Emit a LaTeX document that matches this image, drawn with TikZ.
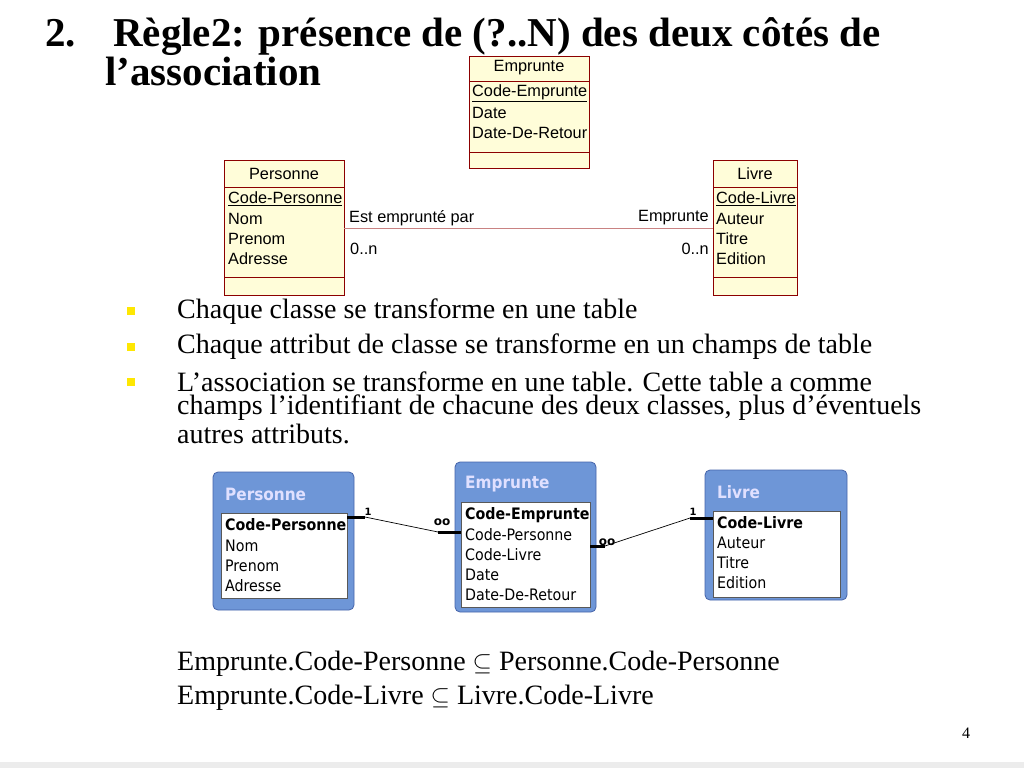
\documentclass[tikz,border=0pt]{standalone}
\usepackage{fontspec}
\setmainfont{Liberation Serif}
\newfontfamily\umlf{Liberation Sans}
\newfontfamily\accf{DejaVu Sans}
\newfontfamily\accc{DejaVu Sans Condensed}
\definecolor{accblue}{RGB}{110,150,215}
\definecolor{accedge}{RGB}{70,100,170}
\begin{document}
\begin{tikzpicture}[x=1pt,y=-1pt,
 umlbox/.style={draw=red!55!black,fill=yellow!15,line width=0.6pt},
 umlt/.style={anchor=west,inner sep=0pt,font=\umlf\fontsize{16.3}{16}\selectfont},
 acco/.style={draw=accedge,fill=accblue,rounded corners=5pt,line width=0.8pt},
 acci/.style={draw=gray!70!black,fill=white,line width=0.8pt},
 acct/.style={anchor=west,inner sep=0pt,font=\accc\fontsize{15.8}{16}\selectfont},
 acch/.style={anchor=west,inner sep=0pt,text=white!88!blue,font=\accc\bfseries\fontsize{17}{17}\selectfont},
 btxt/.style={anchor=west,inner sep=0pt,font=\fontsize{28}{28}\selectfont},
 ttl/.style={anchor=base west,inner sep=0pt,font=\bfseries\fontsize{41}{41}\selectfont},
 bul/.style={fill=yellow!90!orange,minimum size=8pt,inner sep=0pt}]
\useasboundingbox (0,0) rectangle (1024,768);
\fill[white] (0,0) rectangle (1024,768);
% title
\node[ttl] (t1) at (45,46) {2.};
\node[ttl] (t2) at (113,46) {Règle2: présence de (?..N) des deux côtés de};
\node[ttl] (t3) at (105,85) {l’association};
% UML
\draw[umlbox] (469,56) rectangle (589,168); \draw[red!55!black] (469,81)--(589,81) (469,152)--(589,152);
\node[umlt,anchor=center] (e0) at (529,68) {Emprunte};
\node[umlt] (e1) at (472,93) {\underline{Code-Emprunte}};
\node[umlt] (e2) at (472,113) {Date};
\node[umlt] (e3) at (472,133) {Date-De-Retour};
\draw[umlbox] (224,160) rectangle (344,295); \draw[red!55!black] (224,187)--(344,187) (224,277)--(344,277);
\node[umlt,anchor=center] (p0) at (284,174) {Personne};
\node[umlt] (p1) at (228,199) {\underline{Code-Personne}};
\node[umlt] (p2) at (228,219) {Nom};
\node[umlt] (p3) at (228,239) {Prenom};
\node[umlt] (p4) at (228,259) {Adresse};
\draw[umlbox] (713,160) rectangle (797,295); \draw[red!55!black] (713,187)--(797,187) (713,277)--(797,277);
\node[umlt,anchor=center] (l0) at (755,174) {Livre};
\node[umlt] (l1) at (716,199) {\underline{Code-Livre}};
\node[umlt] (l2) at (716,219) {Auteur};
\node[umlt] (l3) at (716,239) {Titre};
\node[umlt] (l4) at (716,259) {Edition};
\coordinate (a1) at (344,228); \coordinate (a2) at (713,228);
\draw[red!40!gray!70,line width=0.8pt] (a1)--(a2);
\node[umlt] (r1) at (349,218) {Est emprunté par};
\node[umlt,anchor=east] (r2) at (709,218) {Emprunte};
\node[umlt] (r3) at (350,249) {0..n};
\node[umlt,anchor=east] (r4) at (709,249) {0..n};
% bullets
\foreach \y in {311,347,382} \node[bul] at (131,\y) {};
\node[btxt] (b1) at (177,312) {Chaque classe se transforme en une table};
\node[btxt] (b2) at (177,347) {Chaque attribut de classe se transforme en un champs de table};
\node[btxt] (b3) at (177,382) {L’association se transforme en une table. Cette table a comme};
\node[btxt] (b4) at (177,408) {champs l’identifiant de chacune des deux classes, plus d’éventuels};
\node[btxt] (b5) at (177,434) {autres attributs.};
% Access
\draw[acco] (213,472) rectangle (354,610); \draw[acci] (221,513) rectangle (347,598);
\node[acch] at (225,494) {Personne};
\node[acct] at (225,525) {\bfseries Code-Personne};
\node[acct] at (225,546) {Nom};
\node[acct] at (225,566) {Prenom};
\node[acct] at (225,586) {Adresse};
\draw[acco] (455,462) rectangle (596,612); \draw[acci] (461,502) rectangle (590,607);
\node[acch] at (465,484) {Emprunte};
\node[acct] at (465,515) {\bfseries Code-Emprunte};
\node[acct] at (465,535) {Code-Personne};
\node[acct] at (465,555) {Code-Livre};
\node[acct] at (465,575) {Date};
\node[acct] at (465,595) {Date-De-Retour};
\draw[acco] (705,470) rectangle (847,600); \draw[acci] (713,511) rectangle (840,597);
\node[acch] at (717,492) {Livre};
\node[acct] at (717,523) {\bfseries Code-Livre};
\node[acct] at (717,543) {Auteur};
\node[acct] at (717,563) {Titre};
\node[acct] at (717,583) {Edition};
\coordinate (c1) at (347,517); \coordinate (c2) at (365,517); \coordinate (c3) at (438,532); \coordinate (c4) at (461,532);
\draw[line width=3pt] (c1)--(c2) (c3)--(c4); \draw[line width=0.7pt] (c2)--(c3);
\node[font=\accf\bfseries\fontsize{10}{10}\selectfont,inner sep=0pt] at (368,512) {1};
\node[font=\accf\bfseries\fontsize{12}{12}\selectfont,inner sep=0pt] at (442,522) {oo};
\coordinate (d1) at (590,546); \coordinate (d2) at (605,546); \coordinate (d3) at (690,518); \coordinate (d4) at (713,518);
\draw[line width=3pt] (d1)--(d2) (d3)--(d4); \draw[line width=0.7pt] (d2)--(d3);
\node[font=\accf\bfseries\fontsize{12}{12}\selectfont,inner sep=0pt] at (607,542) {oo};
\node[font=\accf\bfseries\fontsize{10}{10}\selectfont,inner sep=0pt] at (693,512) {1};
% equations
\node[btxt] (q1) at (177,664) {Emprunte.Code-Personne $\subseteq$ Personne.Code-Personne};
\node[btxt] (q2) at (177,698) {Emprunte.Code-Livre $\subseteq$ Livre.Code-Livre};
\node[inner sep=0pt,font=\fontsize{16}{16}\selectfont] (pg) at (966,733) {4};
\fill[gray!15] (0,762) rectangle (1024,768);
\end{tikzpicture}
\end{document}
